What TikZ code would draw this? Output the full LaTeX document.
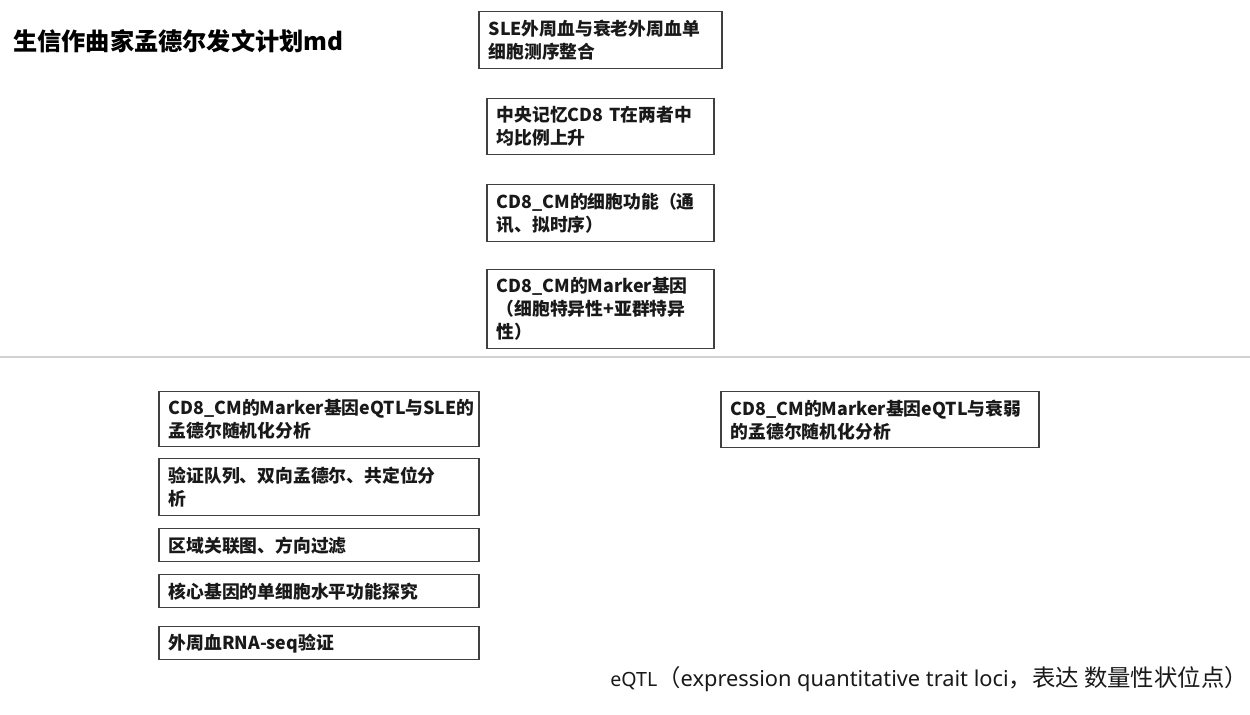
\documentclass[tikz,border=0pt]{standalone}
\usepackage{fontspec}
\newfontfamily\cjk{Noto Sans CJK SC}
\newfontfamily\lat{Noto Sans}
\begin{document}
\begin{tikzpicture}[x=0.5pt,y=-0.5pt,
  box/.style={draw=black!75, line width=0.75pt, fill=white, anchor=north west,
    inner xsep=5pt, inner ysep=0pt, align=left, text=black!90,
    font=\cjk\bfseries\fontsize{8.9}{11.5}\selectfont},
  wbox/.style={box, minimum width=113.5pt, text width=103.5pt},
  lbox/.style={box, minimum width=160pt, text width=150pt},
  sep/.style={draw=black!18, line width=0.8pt}]
\useasboundingbox (0,0) rectangle (1250,715);
\fill[white] (0,0) rectangle (1250,715);
\coordinate (sepL) at (0,357);
\coordinate (sepR) at (1250,357);
\draw[sep] (sepL) -- (sepR);
\node[anchor=west, inner sep=0pt, font=\cjk\bfseries\fontsize{12.1}{14}\selectfont] (title) at (13,41) {生信作曲家孟德尔发文计划md};
\node[box, minimum width=121.5pt, text width=111.5pt, minimum height=28.5pt] (b1) at (478,11) {SLE外周血与衰老外周血单\\细胞测序整合};
\node[wbox, minimum height=28pt] (b2) at (486,98) {中央记忆CD8 T在两者中\\均比例上升};
\node[wbox, minimum height=28.5pt] (b3) at (486,184) {CD8\_CM的细胞功能（通\\讯、拟时序）};
\node[wbox, minimum height=39.5pt] (b4) at (486,269) {CD8\_CM的Marker基因\\（细胞特异性+亚群特异\\性）};
\node[lbox, minimum height=27.5pt] (l1) at (158,391) {CD8\_CM的Marker基因eQTL与SLE的\\孟德尔随机化分析};
\node[lbox, minimum height=28.5pt] (l2) at (158,458) {验证队列、双向孟德尔、共定位分\\析};
\node[lbox, minimum height=16.5pt] (l3) at (158,528) {区域关联图、方向过滤};
\node[lbox, minimum height=16.5pt] (l4) at (158,574) {核心基因的单细胞水平功能探究};
\node[lbox, minimum height=16.5pt] (l5) at (158,626) {外周血RNA-seq验证};
\node[box, minimum width=159pt, text width=149pt, minimum height=28pt] (r1) at (720,391) {CD8\_CM的Marker基因eQTL与衰弱\\的孟德尔随机化分析};
\node[anchor=west, inner sep=0pt, text=black!90, font=\cjk\fontsize{11.7}{13}\selectfont] (note) at (610,679) {{\lat\fontsize{9.8}{12}\selectfont eQTL}（{\lat\fontsize{10.9}{12}\selectfont expression quantitative trait loci}，表达 数量性状位点）};
\end{tikzpicture}
\end{document}
